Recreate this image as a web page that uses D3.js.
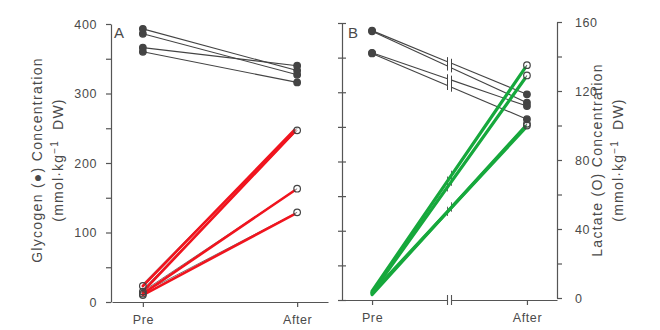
<!DOCTYPE html>
<html>
<head>
<meta charset="utf-8">
<script src="https://cdn.jsdelivr.net/npm/d3@7"></script>
<style>
  body { margin: 0; background: #fff; }
  svg { display: block; }
  text { font-family: "Liberation Sans", Arial, Helvetica, sans-serif; fill: #4a4a4a; }
  .axis path, .axis line { stroke: #555; stroke-width: 1.2; }
  .axis text { font-size: 12.5px; fill: #4a4a4a; letter-spacing: 0.6px; }
</style>
</head>
<body>
<div id="chart"></div>
<script>
// ---- data ----
var phases = ["Pre", "After"];

// panel A: glycogen (filled) and lactate (open), mmol/kg DW
var glyA_pre   = [393, 386, 366, 360];
var glyA_after = [333, 327, 340, 316];
var lacA_pre   = [23, 15, 12, 10];
var lacA_after = [250, 247, 163, 129];

// panel B: glycogen on left scale (0-400), lactate on right scale (0-160)
var glyB_pre   = [389, 388, 357, 356];
var glyB_after = [297, 285, 280, 261];
var lacB_pre   = [4, 3, 2, 3];
var lacB_after = [135, 129, 101, 100];

var glyTicks = d3.range(0, 401, 50);
var lacTicks = d3.range(0, 161, 20);

var width = 660, height = 330;
var green = "#16a83c", red = "#f0141e", ink = "#444";

var svg = d3.select("#chart").append("svg")
  .attr("width", width)
  .attr("height", height);

// ---- scales ----
var xA = d3.scalePoint().domain(phases).range([112, 328]).padding(0.2);
var yA = d3.scaleLinear().domain([0, 400]).range([302, 24]);

var xB = d3.scalePoint().domain(phases).range([342, 557]).padding(0.194);
var yBG = d3.scaleLinear().domain([0, 400]).range([300, 23]);
var yBL = d3.scaleLinear().domain([0, 160]).range([298, 22]);

function pairs(pre, after) {
  return pre.map(function(v, i) { return {pre: v, after: after[i]}; });
}

// ---- panel A axes ----
svg.append("g").attr("class", "axis")
  .attr("transform", "translate(111,0)")
  .call(d3.axisLeft(yA).tickValues(glyTicks)
    .tickFormat(function(d) { return d % 100 === 0 ? d : ""; })
    .tickSize(5).tickSizeOuter(0).tickPadding(9));

svg.append("g").attr("class", "axis")
  .attr("transform", "translate(0,302)")
  .call(d3.axisBottom(xA).tickSize(5).tickSizeOuter(0).tickPadding(8));

// ---- panel B axes ----
var bLeft = svg.append("g").attr("class", "axis")
  .attr("transform", "translate(342,0)")
  .call(d3.axisLeft(yBG).tickValues(glyTicks).tickFormat("")
    .tickSize(4).tickSizeOuter(0));
bLeft.selectAll(".tick line").attr("x2", 4).attr("x1", -4);

svg.append("g").attr("class", "axis")
  .attr("transform", "translate(557,0)")
  .call(d3.axisRight(yBL).tickValues(lacTicks)
    .tickFormat(function(d) { return d % 40 === 0 ? d : ""; })
    .tickSize(5).tickSizeOuter(0).tickPadding(13));

svg.append("g").attr("class", "axis")
  .attr("transform", "translate(0,300)")
  .call(d3.axisBottom(xB).tickSize(5).tickSizeOuter(0).tickPadding(8));

// x-axis break marks
var midB = (xB("Pre") + xB("After")) / 2;
svg.append("rect").attr("x", midB - 2).attr("y", 297).attr("width", 4).attr("height", 6).attr("fill", "#fff");
[-2, 2].forEach(function(o) {
  svg.append("line").attr("x1", midB + o).attr("x2", midB + o)
    .attr("y1", 295).attr("y2", 305).attr("stroke", "#555").attr("stroke-width", 1.1);
});

// ---- panel A marks ----
var gA = svg.append("g");

gA.selectAll(".glyA").data(pairs(glyA_pre, glyA_after)).enter().append("line")
  .attr("x1", xA("Pre")).attr("x2", xA("After"))
  .attr("y1", function(d) { return yA(d.pre); })
  .attr("y2", function(d) { return yA(d.after); })
  .attr("stroke", ink).attr("stroke-width", 1.1);

gA.selectAll(".lacAthin").data(pairs(lacA_pre, lacA_after)).enter().append("line")
  .attr("x1", xA("Pre") + 1).attr("x2", xA("After"))
  .attr("y1", function(d) { return yA(d.pre) - 3; })
  .attr("y2", function(d) { return yA(d.after); })
  .attr("stroke", "#777").attr("stroke-width", 1);

gA.selectAll(".lacA").data(pairs(lacA_pre, lacA_after)).enter().append("line")
  .attr("x1", xA("Pre")).attr("x2", xA("After") - 3)
  .attr("y1", function(d) { return yA(d.pre); })
  .attr("y2", function(d) { return yA(d.after) + 2; })
  .attr("stroke", red).attr("stroke-width", 2.6).attr("stroke-linecap", "round");

function dots(g, x, y, values, phase, filled) {
  g.selectAll(null).data(values).enter().append("circle")
    .attr("cx", x(phase))
    .attr("cy", function(d) { return y(d); })
    .attr("r", 3.3)
    .attr("fill", filled ? ink : "#fff")
    .attr("fill-opacity", filled ? 1 : 0)
    .attr("stroke", ink).attr("stroke-width", 1.2);
}
dots(gA, xA, yA, glyA_pre, "Pre", true);
dots(gA, xA, yA, glyA_after, "After", true);
dots(gA, xA, yA, lacA_pre, "Pre", false);
dots(gA, xA, yA, lacA_after.slice(1), "After", false);

// ---- panel B marks ----
var gB = svg.append("g");

function brokenLines(g, data, yScale, color) {
  data.forEach(function(d) {
    var x1 = xB("Pre"), x2 = xB("After");
    var y1 = yScale(d.pre), y2 = yScale(d.after);
    var t = function(x) { return y1 + (y2 - y1) * (x - x1) / (x2 - x1); };
    [[x1, midB - 2], [midB + 2, x2]].forEach(function(s) {
      g.append("line").attr("x1", s[0]).attr("x2", s[1])
        .attr("y1", t(s[0])).attr("y2", t(s[1]))
        .attr("stroke", color).attr("stroke-width", 1.1);
    });
    [-2, 2].forEach(function(o) {
      g.append("line").attr("x1", midB + o).attr("x2", midB + o)
        .attr("y1", t(midB + o) - 4.5).attr("y2", t(midB + o) + 4.5)
        .attr("stroke", color).attr("stroke-width", 1);
    });
  });
}

brokenLines(gB, pairs(glyB_pre, glyB_after), yBG, ink);
brokenLines(gB, pairs(lacB_pre, lacB_after), yBL, "#666");

gB.selectAll(".lacB").data(pairs(lacB_pre, lacB_after)).enter().append("line")
  .attr("x1", xB("Pre")).attr("x2", xB("After") - 2)
  .attr("y1", function(d) { return yBL(d.pre); })
  .attr("y2", function(d) { return yBL(d.after) + 3; })
  .attr("stroke", green).attr("stroke-width", 3.2).attr("stroke-linecap", "round");

dots(gB, xB, yBG, glyB_pre, "Pre", true);
dots(gB, xB, yBG, glyB_after, "After", true);
dots(gB, xB, yBL, lacB_after, "After", false);

// ---- panel letters ----
svg.append("text").attr("x", 114).attr("y", 38).attr("font-size", 15).text("A");
svg.append("text").attr("x", 348).attr("y", 38).attr("font-size", 15).text("B");

// ---- axis titles ----
function title(x, y, line1) {
  var g = svg.append("g").attr("transform", "translate(" + x + "," + y + ") rotate(-90)");
  g.append("text").attr("text-anchor", "middle").attr("y", 0)
    .attr("font-size", 14).attr("letter-spacing", 1.3).text(line1);
  var t = g.append("text").attr("text-anchor", "middle").attr("y", 21)
    .attr("font-size", 14).attr("letter-spacing", 1.2);
  t.append("tspan").text("(mmol\u00b7kg");
  t.append("tspan").attr("dy", -5).attr("font-size", 10).text("\u22121");
  t.append("tspan").attr("dy", 5).attr("dx", 10).text("DW)");
}
title(42, 160, "Glycogen (\u25cf) Concentration");
title(602, 160, "Lactate (O) Concentration");
</script>
</body>
</html>
